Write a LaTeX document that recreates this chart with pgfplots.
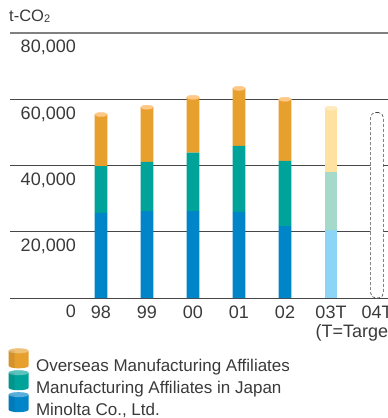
\documentclass[border=0pt]{standalone}
\usepackage{fontspec}
\setmainfont{Liberation Sans}
\usepackage{pgfplots}
\pgfplotsset{compat=1.18}
\definecolor{cOr}{HTML}{E7A02E}
\definecolor{cOrCap}{HTML}{FFC887}
\definecolor{cTe}{HTML}{00A39A}
\definecolor{cBl}{HTML}{0085C8}
\definecolor{lOr}{HTML}{FFE1A0}
\definecolor{lOrCap}{HTML}{FFE9BE}
\definecolor{lTe}{HTML}{A5D9C9}
\definecolor{lBl}{HTML}{8DD5F6}
\definecolor{txt}{HTML}{3A3A3A}
\begin{document}
\begin{tikzpicture}
\clip (0,0) rectangle (388pt,418pt);
\node[anchor=base west, inner sep=0pt, text=txt, font=\fontsize{16.5}{18}\selectfont] at (9pt,396pt) {t-CO\raisebox{-0.8pt}{\fontsize{11}{12}\selectfont 2}};
\begin{axis}[
  at={(10pt,120pt)}, anchor=south west,
  scale only axis, width=378pt, height=265pt,
  xmin=-1.978, xmax=6.239, ymin=0, ymax=80000,
  clip=false,
  ybar stacked, bar width=12.7pt,
  axis line style={draw=none},
  major tick length=0pt,
  ytick={0,20000,40000,60000},
  extra y ticks={80000},
  extra y tick style={grid style={black!50, line width=1.6pt}},
  ymajorgrids, grid style={black!72, line width=0.9pt},
  xtick={0,...,6}, xticklabels={98,99,00,01,02,03T,04T},
  scaled y ticks=false,
  /pgf/number format/1000 sep={,},
  /pgf/number format/assume math mode=true,
  yticklabel style={anchor=north east, inner sep=0pt, xshift=66pt, yshift=-7pt, font=\fontsize{18}{20}\selectfont, text=txt},
  xticklabel style={anchor=north, inner sep=0pt, yshift=-7.5pt, font=\fontsize{18}{20}\selectfont, text=txt},
  legend style={draw=none, fill=none, inner sep=0pt, outer sep=0pt,
    font=\fontsize{17}{19}\selectfont, text=txt, cells={anchor=west},
    nodes={inner xsep=4.5pt, inner ysep=0pt}, row sep=-2.5pt,
    at={(-0.0038,-0.19)}, anchor=north west},
  reverse legend,
  legend image code/.code={
    \path[#1, draw=none] (0pt,0pt) -- (0pt,15pt) arc[start angle=180, end angle=0, x radius=10pt, y radius=2.5pt] -- (20pt,0pt) arc[start angle=0, end angle=-180, x radius=10pt, y radius=2.5pt] -- cycle;
    \fill[white, opacity=0.35] (10pt,15pt) ellipse[x radius=10pt, y radius=2.5pt];
    \fill[black, opacity=0.08] (0pt,0pt) -- (0pt,15pt) -- (6pt,15pt) -- (6pt,-2.2pt) arc[start angle=-127, end angle=-180, x radius=10pt, y radius=2.5pt] -- cycle;
    \path (23pt,0pt);
  },
]
\addplot[draw=none, fill=cBl] coordinates {(0,25700) (1,26200) (2,26200) (3,26000) (4,21700) (5,0)};
\addlegendentry{Minolta Co., Ltd.}
\addplot[draw=none, fill=cTe] coordinates {(0,14100) (1,14900) (2,17700) (3,19900) (4,19700) (5,0)};
\addlegendentry{Manufacturing Affiliates in Japan}
\addplot[draw=none, fill=cOr] coordinates {(0,15600) (1,16500) (2,16700) (3,17400) (4,18600) (5,0)};
\addlegendentry{Overseas Manufacturing Affiliates}
\addplot[draw=none, fill=lBl, forget plot] coordinates {(0,0) (1,0) (2,0) (3,0) (4,0) (5,20500)};
\addplot[draw=none, fill=lTe, forget plot] coordinates {(0,0) (1,0) (2,0) (3,0) (4,0) (5,17600)};
\addplot[draw=none, fill=lOr, forget plot] coordinates {(0,0) (1,0) (2,0) (3,0) (4,0) (5,19200)};
\addplot[stack plots=false, forget plot, only marks, mark=*, mark size=6.35pt,
  mark options={solid, yscale=0.32, draw=cOrCap, fill=cOrCap}]
  coordinates {(0,55400) (1,57600) (2,60600) (3,63300) (4,60000)};
\addplot[stack plots=false, forget plot, only marks, mark=*, mark size=6.35pt,
  mark options={solid, yscale=0.32, draw=lOrCap, fill=lOrCap}]
  coordinates {(5,57300)};
\addplot[stack plots=false, forget plot, draw=black!75, dash pattern=on 3pt off 2pt, fill=white, rounded corners=5pt, line width=0.6pt] coordinates {(6,56000)};
\node[anchor=base west, inner sep=0pt, text=txt, font=\fontsize{18}{20}\selectfont] at (axis cs:5,0) [xshift=-15.5pt, yshift=-39.5pt] {(T=Target)};
\end{axis}
\end{tikzpicture}
\end{document}
